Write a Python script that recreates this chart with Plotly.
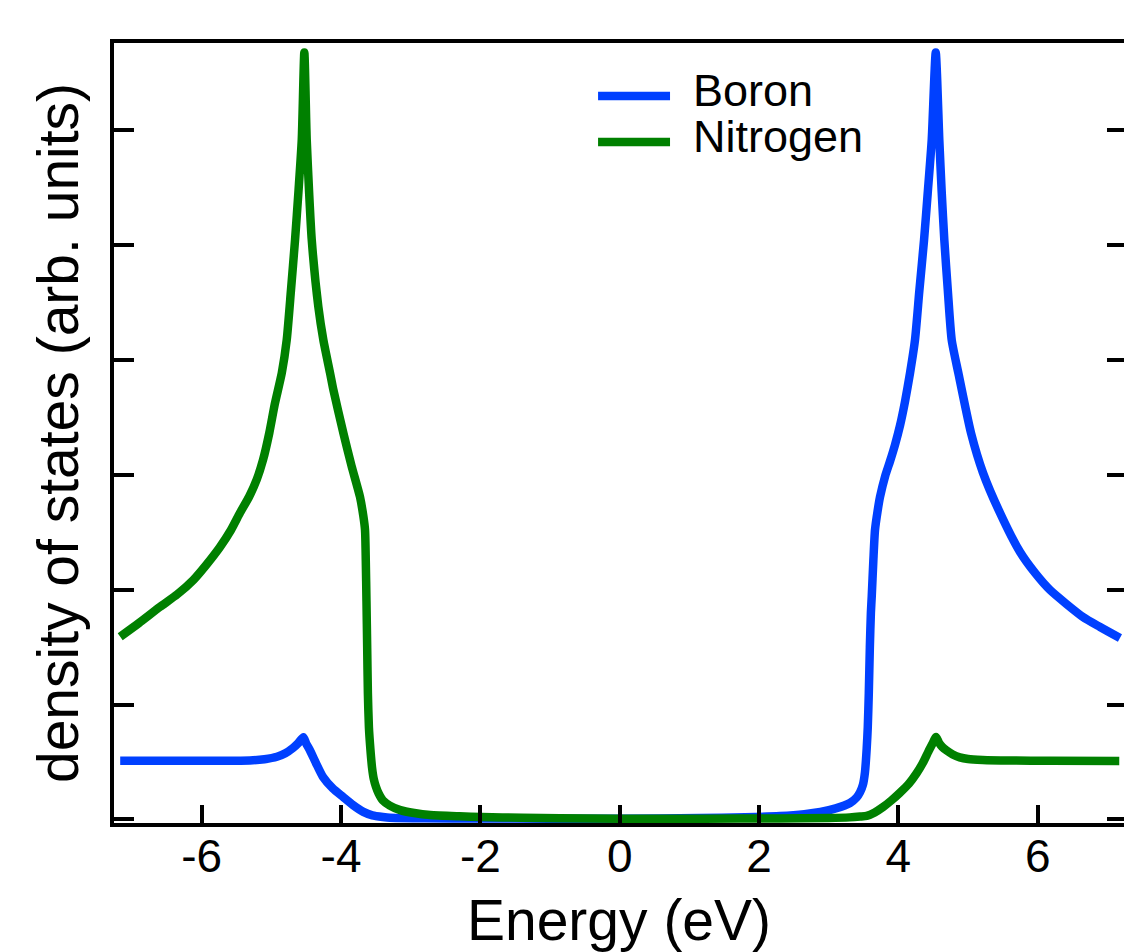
import plotly.graph_objects as go

# Partial density of states of hexagonal BN, energy in eV
boron_energy = [-7.17, -6.5, -5.8, -5.31, -5.10, -4.92, -4.80, -4.69, -4.62, -4.541,
                -4.50, -4.449, -4.36, -4.26, -4.12, -3.97, -3.83, -3.68, -3.55, -3.40,
                -3.30, -2.80, -2.0, -1.0, 0.0, 1.15, 1.8, 2.30, 2.65, 2.88, 3.10, 3.305,
                3.40, 3.45, 3.49, 3.52, 3.545, 3.56, 3.575, 3.59, 3.605, 3.617, 3.64,
                3.664, 3.70, 3.736, 3.81, 3.88, 3.95, 4.023, 4.095, 4.167, 4.238, 4.30,
                4.368, 4.42, 4.478, 4.536, 4.587, 4.62, 4.659, 4.71, 4.765, 4.86, 5.042,
                5.215, 5.459, 5.746, 5.961, 6.177, 6.65, 6.894, 7.18]
boron_dos = [0.510, 0.510, 0.511, 0.513, 0.524, 0.545, 0.575, 0.621, 0.660, 0.715,
             0.660, 0.604, 0.490, 0.370, 0.270, 0.194, 0.125, 0.065, 0.035, 0.020,
             0.013, 0.009, 0.007, 0.006, 0.006, 0.011, 0.018, 0.029, 0.045, 0.064, 0.095, 0.142,
             0.190, 0.237, 0.300, 0.411, 0.620, 0.800, 1.100, 1.500, 1.800, 1.940, 2.250,
             2.520, 2.680, 2.808, 2.990, 3.120, 3.260, 3.430, 3.640, 3.888, 4.175, 4.600,
             5.046, 5.450, 5.917, 6.680, 5.917, 5.480, 5.046, 4.600, 4.175, 3.888, 3.365,
             3.017, 2.668, 2.328, 2.146, 1.997, 1.762, 1.675, 1.579]

nitrogen_energy = [-7.17, -6.90, -6.60, -6.35, -6.12, -5.93, -5.74, -5.58, -5.45, -5.32,
                   -5.21, -5.12, -5.03, -4.95, -4.85, -4.78, -4.72, -4.66, -4.61, -4.564,
                   -4.527, -4.493, -4.46, -4.421, -4.326, -4.254, -4.158, -4.11, -3.967,
                   -3.85, -3.728, -3.68, -3.656, -3.645, -3.635, -3.625, -3.615, -3.600,
                   -3.580, -3.555, -3.53, -3.50, -3.46, -3.40, -3.30, -3.15, -2.95, -2.72,
                   -2.30, -1.98, -1.40, -0.86, 0.0, 1.2, 2.3, 3.0, 3.30, 3.45, 3.545, 3.66,
                   3.78, 3.90, 4.02, 4.15, 4.26, 4.35, 4.43, 4.49, 4.54, 4.58, 4.63, 4.69,
                   4.78, 4.88, 5.0, 5.21, 5.6, 6.18, 7.17]
nitrogen_dos = [1.590, 1.710, 1.850, 1.960, 2.085, 2.220, 2.370, 2.520, 2.670, 2.810,
                2.960, 3.130, 3.365, 3.620, 3.890, 4.175, 4.600, 5.050, 5.480, 5.920,
                6.680, 5.920, 5.480, 5.050, 4.465, 4.175, 3.888, 3.740, 3.365,
                3.080, 2.808, 2.640, 2.520, 2.250, 1.900, 1.500, 1.100, 0.800,
                0.620, 0.450, 0.350, 0.285, 0.225, 0.165, 0.120, 0.080, 0.055, 0.037,
                0.026, 0.020, 0.014, 0.010, 0.006, 0.006, 0.008, 0.012, 0.017, 0.024, 0.030,
                0.060, 0.107, 0.165, 0.231, 0.310, 0.400, 0.490, 0.590, 0.660, 0.717, 0.670,
                0.630, 0.600, 0.565, 0.540, 0.525, 0.517, 0.512, 0.510, 0.508]

series_names = ["Boron", "Nitrogen"]
series_colors = ["#0040ff", "#008000"]

x_ticks = [-6, -4, -2, 0, 2, 4, 6]
x_tick_text = ["-6", "-4", "-2", "0", "2", "4", "6"]
y_ticks = [0, 1, 2, 3, 4, 5, 6]

FONT = "Liberation Sans, Arial, sans-serif"
x_range = [-7.259, 7.238]
y_range = [-0.032, 6.762]
LINE_W = 8.5

fig = go.Figure()
for xs, ys, name, color in [(boron_energy, boron_dos, series_names[0], series_colors[0]),
                            (nitrogen_energy, nitrogen_dos, series_names[1], series_colors[1])]:
    fig.add_trace(go.Scatter(x=xs, y=ys, mode="lines", name=name, showlegend=False,
                             line=dict(color=color, width=LINE_W, shape="spline",
                                       smoothing=0.6)))
# empty trace so the right-hand tick axis is built
fig.add_trace(go.Scatter(x=[], y=[], yaxis="y2", showlegend=False))

# legend drawn by hand with long line samples
legend_y = [6.30, 5.90]
for name, color, ly in zip(series_names, series_colors, legend_y):
    fig.add_shape(type="line", xref="x", yref="y", x0=-0.311, x1=0.722, y0=ly, y1=ly,
                  line=dict(color=color, width=LINE_W))
    fig.add_annotation(x=1.03, y=ly - 0.19, xref="x", yref="y", text=name, showarrow=False,
                       xanchor="left", yanchor="bottom", valign="bottom", height=44,
                       font=dict(family=FONT, size=45, color="black"))

fig.update_layout(
    width=1124, height=952,
    margin=dict(l=114, r=0, t=43, b=129),
    paper_bgcolor="white", plot_bgcolor="white",
    font=dict(family=FONT, color="black"),
    xaxis=dict(
        range=x_range, tickvals=x_ticks, ticktext=x_tick_text,
        ticks="inside", ticklen=18, tickwidth=3.5, tickcolor="black",
        showline=True, linewidth=3.5, linecolor="black", mirror=True,
        showgrid=False, zeroline=False, ticklabelstandoff=-10,
        tickfont=dict(family=FONT, size=46, color="black"),
        title=dict(text="Energy (eV)", font=dict(family=FONT, size=57, color="black"),
                   standoff=22),
    ),
    yaxis=dict(
        range=y_range, tickvals=y_ticks, showticklabels=False,
        ticks="inside", ticklen=20, tickwidth=3.5, tickcolor="black",
        showline=True, linewidth=3.5, linecolor="black", mirror=False,
        showgrid=False, zeroline=False,
        title=dict(text="density of states (arb. units)",
                   font=dict(family=FONT, size=57, color="black"), standoff=14),
    ),
    yaxis2=dict(
        overlaying="y", side="right", anchor="x", matches="y",
        range=y_range, tickvals=y_ticks, showticklabels=False,
        ticks="inside", ticklen=17, tickwidth=3.5, tickcolor="black",
        showline=False, showgrid=False, zeroline=False,
    ),
)

fig.write_html("out.html")
